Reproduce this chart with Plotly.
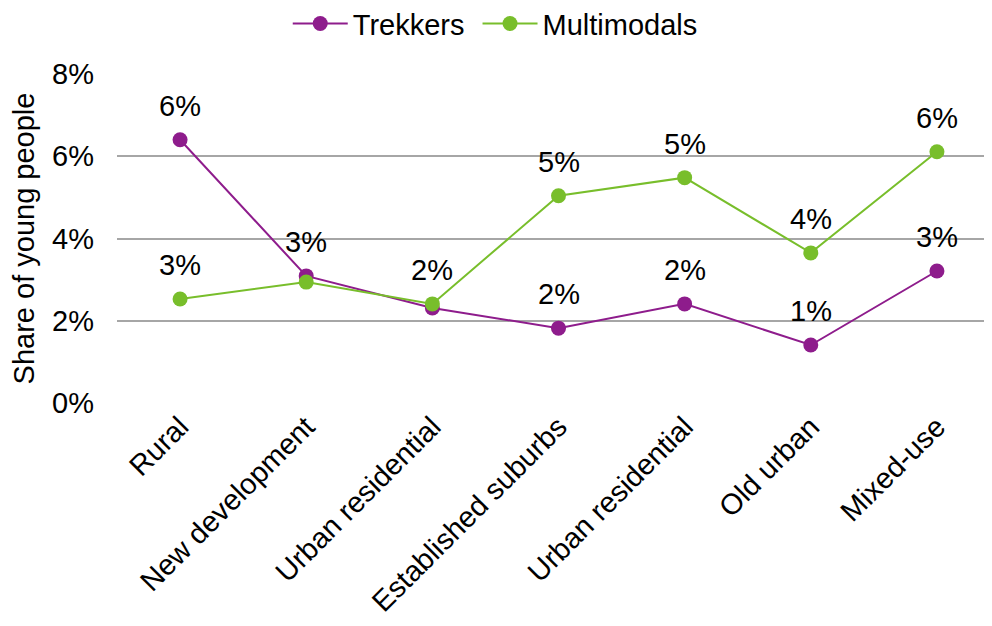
import plotly.graph_objects as go

categories = ["Rural", "New development", "Urban residential", "Established suburbs",
              "Urban residential", "Old urban", "Mixed-use"]
trekkers = [6.4, 3.09, 2.31, 1.82, 2.41, 1.41, 3.21]
multimodals = [2.53, 2.94, 2.41, 5.04, 5.48, 3.65, 6.11]
y_ticks = [0, 2, 4, 6, 8]
y_tick_labels = ["0%", "2%", "4%", "6%", "8%"]

purple = "#8E1C8C"
green = "#78BE2B"
font = "Liberation Sans, Arial, sans-serif"
fs = 29

x = list(range(len(categories)))

fig = go.Figure()
fig.add_trace(go.Scatter(x=x, y=trekkers, name="Trekkers\u00a0", mode="lines+markers",
                         line=dict(color=purple, width=2),
                         marker=dict(color=purple, size=15)))
fig.add_trace(go.Scatter(x=x, y=multimodals, name="Multimodals", mode="lines+markers",
                         line=dict(color=green, width=2),
                         marker=dict(color=green, size=15)))


def pct(v):
    return f"{int(v + 0.5)}%"


for i, xi in enumerate(x):
    t, m = trekkers[i], multimodals[i]
    if pct(t) == pct(m) and abs(t - m) < 0.3:
        # identical labels at nearly the same spot: shown once, above the higher point
        points = [max(t, m)]
    else:
        points = [t, m]
    for v in points:
        fig.add_annotation(x=xi, y=v, text=pct(v), showarrow=False,
                           yshift=34, font=dict(size=fs, color="#000000", family=font))

fig.update_layout(
    width=992, height=626,
    margin=dict(l=109, r=0, t=66, b=231),
    paper_bgcolor="white", plot_bgcolor="white",
    font=dict(family=font, size=fs, color="#000000"),
    showlegend=True,
    legend=dict(orientation="h", x=0.282, xanchor="left", y=0.975, yanchor="middle",
                xref="container", yref="container", font=dict(size=fs),
                bgcolor="rgba(0,0,0,0)", itemwidth=55),
    xaxis=dict(range=[-0.5, 6.5], tickmode="array", tickvals=x, ticktext=categories,
               tickangle=-45, showgrid=False, zeroline=False, showline=False,
               tickfont=dict(size=fs), automargin=False),
    yaxis=dict(range=[0, 8], tickmode="array", tickvals=y_ticks, ticktext=y_tick_labels,
               showgrid=True, gridcolor="#A6A6A6", gridwidth=2, zeroline=False,
               showline=False, tickfont=dict(size=fs), ticks="", ticklabelstandoff=22,
               automargin=False,
               title=dict(text="Share of young people", font=dict(size=fs), standoff=10)),
)

fig.write_html("out.html")
